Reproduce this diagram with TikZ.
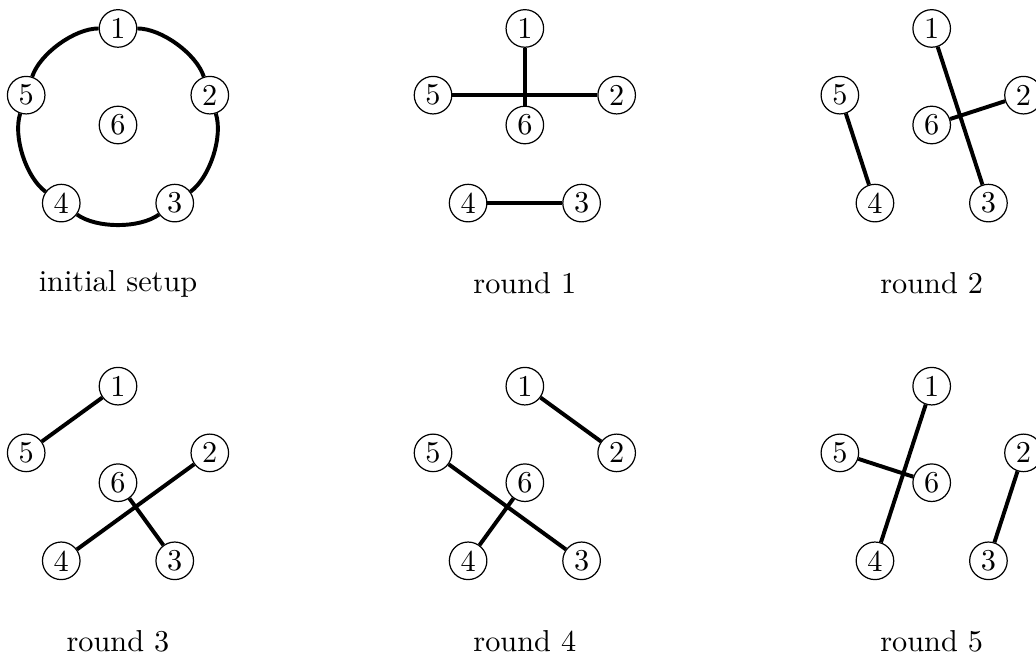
\documentclass[tikz,border=0pt]{standalone}
\begin{document}
\begin{tikzpicture}[
        vertex/.style={draw, circle, thin, inner sep=0pt, minimum size=12.4pt},
        edge/.style={line width=1.3pt}
    ]
            \useasboundingbox (-1.369,-6.160) rectangle (10.650,1.450);
            \foreach \p/\x/\y/\t in {0/0/0/initial setup, 1/4.72/0/round 1, 2/9.44/0/round 2,
                                     3/0/-4.15/round 3, 4/4.72/-4.15/round 4, 5/9.44/-4.15/round 5}{
                \begin{scope}[shift={(\x,\y)}]
                    \node[vertex] (\p-1) at (90:1.12) {1};
                    \node[vertex] (\p-2) at (18:1.12) {2};
                    \node[vertex] (\p-3) at (-54:1.12) {3};
                    \node[vertex] (\p-4) at (-126:1.12) {4};
                    \node[vertex] (\p-5) at (162:1.12) {5};
                    \node[vertex] (\p-6) at (0,0) {6};
                    \node (\p-t) at (0,-1.84) {\t};
                \end{scope}
            }
            \draw[edge, looseness=0.75] (0-1) to[out=0, in=108] (0-2);
            \draw[edge, looseness=0.75] (0-2) to[out=-72, in=36] (0-3);
            \draw[edge, looseness=0.75] (0-3) to[out=-144, in=-36] (0-4);
            \draw[edge, looseness=0.75] (0-4) to[out=144, in=-108] (0-5);
            \draw[edge, looseness=0.75] (0-5) to[out=72, in=180] (0-1);
            \draw[edge] (1-1) -- (1-6) (1-5) -- (1-2) (1-4) -- (1-3);
            \draw[edge] (2-5) -- (2-4) (2-1) -- (2-3) (2-6) -- (2-2);
            \draw[edge] (3-5) -- (3-1) (3-4) -- (3-2) (3-6) -- (3-3);
            \draw[edge] (4-1) -- (4-2) (4-5) -- (4-3) (4-6) -- (4-4);
            \draw[edge] (5-1) -- (5-4) (5-5) -- (5-6) (5-2) -- (5-3);
        \end{tikzpicture}
\end{document}
